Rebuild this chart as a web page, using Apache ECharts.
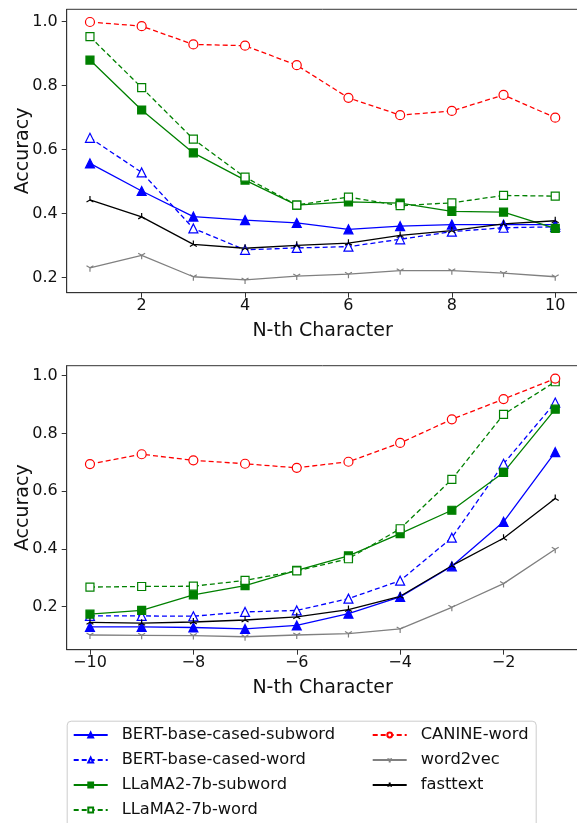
<!DOCTYPE html>
<html><head><meta charset="utf-8">
<script src="https://cdn.jsdelivr.net/npm/echarts@6/dist/echarts.min.js"></script>
<style>html,body{margin:0;padding:0;background:#fff}#c{width:577px;height:823px}</style>
</head><body><div id="c"></div>
<script>
const topX = [1,2,3,4,5,6,7,8,9,10];
const botX = [-10,-9,-8,-7,-6,-5,-4,-3,-2,-1];
const xTicksTop = [2,4,6,8,10];
const xTicksBot = [-10,-8,-6,-4,-2];
const yTicks = [0.2,0.4,0.6,0.8,1.0];
const seriesNames = ['BERT-base-cased-subword','BERT-base-cased-word','LLaMA2-7b-subword','LLaMA2-7b-word','CANINE-word','word2vec','fasttext'];

const bertSubTop   = [0.557,0.471,0.391,0.380,0.371,0.351,0.361,0.366,0.366,0.366];
const bertWordTop  = [0.637,0.529,0.354,0.287,0.293,0.297,0.320,0.344,0.356,0.359];
const llamaSubTop  = [0.880,0.724,0.590,0.505,0.427,0.437,0.433,0.407,0.405,0.354];
const llamaWordTop = [0.953,0.794,0.633,0.514,0.427,0.452,0.425,0.434,0.457,0.455];
const canineTop    = [0.999,0.986,0.929,0.925,0.864,0.762,0.708,0.721,0.771,0.700];
const w2vTop       = [0.231,0.270,0.203,0.193,0.205,0.211,0.222,0.222,0.214,0.203];
const fasttextTop  = [0.443,0.390,0.304,0.292,0.301,0.308,0.332,0.347,0.368,0.378];

const bertSubBot   = [0.130,0.130,0.128,0.123,0.135,0.176,0.234,0.340,0.494,0.735];
const bertWordBot  = [0.168,0.168,0.167,0.182,0.187,0.228,0.290,0.439,0.695,0.907];
const llamaSubBot  = [0.174,0.187,0.241,0.273,0.326,0.376,0.453,0.534,0.665,0.884];
const llamaWordBot = [0.268,0.270,0.271,0.291,0.324,0.366,0.470,0.641,0.866,0.979];
const canineBot    = [0.694,0.728,0.707,0.695,0.681,0.702,0.767,0.849,0.919,0.990];
const w2vBot       = [0.102,0.101,0.100,0.096,0.102,0.107,0.123,0.198,0.280,0.399];
const fasttextBot  = [0.146,0.143,0.147,0.154,0.165,0.190,0.236,0.342,0.437,0.575];

const FONT = 'DejaVu Sans';
const triDown = 'path://M0,0 L0,10 M0,0 L-8.66,-5 M0,0 L8.66,-5 M0,-10 L0,-10';
const triUp = 'path://M0,0 L0,-10 M0,0 L-8.66,5 M0,0 L8.66,5 M0,10 L0,10';

const styles = [
  {color:'#0000ff', dash:'solid', symbol:'triangle', size:9, fill:'#0000ff'},
  {color:'#0000ff', dash:[5,3], symbol:'triangle', size:9, fill:'#ffffff'},
  {color:'#008000', dash:'solid', symbol:'rect', size:8, fill:'#008000'},
  {color:'#008000', dash:[5,3], symbol:'rect', size:8, fill:'#ffffff'},
  {color:'#ff0000', dash:[5,3], symbol:'circle', size:9, fill:'#ffffff'},
  {color:'#808080', dash:'solid', symbol:triDown, size:8, fill:'none'},
  {color:'#000000', dash:'solid', symbol:triUp, size:8, fill:'none'}
];
const topData = [bertSubTop,bertWordTop,llamaSubTop,llamaWordTop,canineTop,w2vTop,fasttextTop];
const botData = [bertSubBot,bertWordBot,llamaSubBot,llamaWordBot,canineBot,w2vBot,fasttextBot];

function mk(idx, xs, vals, gi){
  const s = styles[idx];
  return {
    name: seriesNames[idx], type:'line', xAxisIndex:gi, yAxisIndex:gi,
    data: xs.map((x,i)=>[x, vals[i]]),
    symbol: s.symbol, symbolSize: s.size, symbolKeepAspect:true, showAllSymbol:true,
    color: s.color,
    lineStyle:{color:s.color, width:1.3, type:s.dash},
    itemStyle:{color:s.fill, borderColor:s.color, borderWidth:1.2},
    emphasis:{disabled:true}, animation:false
  };
}
const series = [];
for (let i=0;i<7;i++) series.push(mk(i, topX, topData[i], 0));
for (let i=0;i<7;i++) series.push(mk(i, botX, botData[i], 1));

const axCol = '#333';
function xAxis(gi, min, max, ticks){
  return {type:'value', gridIndex:gi, min:min, max:max,
    name:'N-th Character', nameLocation:'middle', nameGap:29, nameMoveOverlap:false,
    nameTextStyle:{fontFamily:FONT, fontSize:19, color:'#111'},
    axisLine:{show:true, onZero:false, lineStyle:{color:axCol, width:1}},
    axisTick:{show:true, inside:false, length:5, lineStyle:{color:axCol}, customValues:ticks},
    axisLabel:{fontFamily:FONT, fontSize:16, color:'#111', margin:5, customValues:ticks,
      formatter:v=>String(v).replace('-', '\u2212')},
    splitLine:{show:false}};
}
function yAxis(gi, min, max){
  return {type:'value', gridIndex:gi, min:min, max:max,
    name:'Accuracy', nameLocation:'middle', nameGap:34, nameMoveOverlap:false,
    nameTextStyle:{fontFamily:FONT, fontSize:19, color:'#111'},
    axisLine:{show:true, onZero:false, lineStyle:{color:axCol, width:1}},
    axisTick:{show:true, inside:false, length:5, lineStyle:{color:axCol}, customValues:yTicks},
    axisLabel:{fontFamily:FONT, fontSize:16, color:'#111', margin:9, customValues:yTicks,
      formatter:v=>v.toFixed(1)},
    splitLine:{show:false}};
}

const legendCommon = {orient:'vertical', padding:0, itemGap:9, itemWidth:34, itemHeight:6,
  textStyle:{fontFamily:FONT, fontSize:16.3, color:'#111', lineHeight:16, padding:[0,0,0,9]},
  selectedMode:false};

const option = {
  backgroundColor:'#fff',
  animation:false,
  grid:[
    {left:66.7, top:9.3, width:511.8, height:283.4, show:true, borderColor:axCol, borderWidth:1, backgroundColor:'transparent', outerBoundsMode:'none', containLabel:false},
    {left:66.7, top:365.7, width:511.8, height:284, show:true, borderColor:axCol, borderWidth:1, backgroundColor:'transparent', outerBoundsMode:'none', containLabel:false}
  ],
  xAxis:[xAxis(0, 0.55, 10.45, xTicksTop), xAxis(1, -10.45, -0.55, xTicksBot)],
  yAxis:[yAxis(0, 0.1531, 1.0387), yAxis(1, 0.0511, 1.0346)],
  legend:[
    Object.assign({left:72.7, top:727, data:seriesNames.slice(0,4)}, legendCommon),
    Object.assign({left:371.7, top:727, data:seriesNames.slice(4)}, legendCommon)
  ],
  graphic:[{type:'rect', left:66.7, top:720.7, shape:{width:469, height:130, r:4},
    style:{fill:'#fff', stroke:'#cccccc', lineWidth:1}, z:-1}],
  series: series
};
const chart = echarts.init(document.getElementById('c'), null, {renderer:'canvas'});
chart.setOption(option);
</script></body></html>
